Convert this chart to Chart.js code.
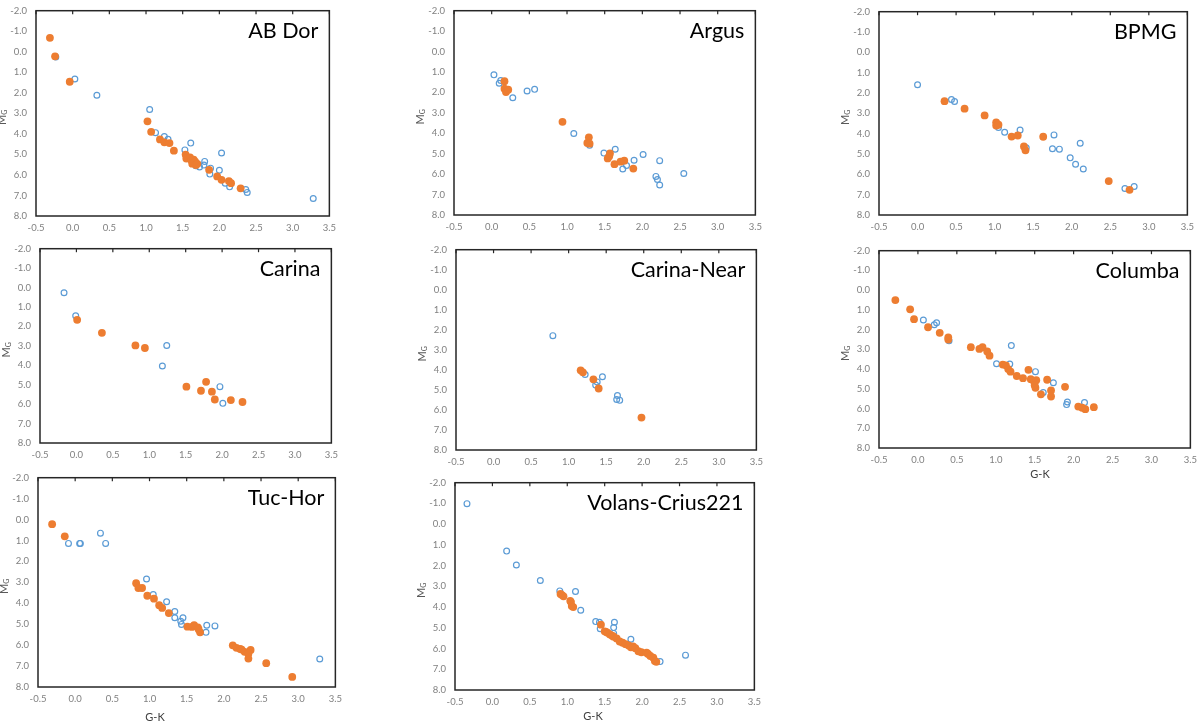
<!DOCTYPE html>
<html><head><meta charset="utf-8">
<script src="https://cdn.jsdelivr.net/npm/chart.js@4"></script>
<style>
body{margin:0;background:#fff;width:1200px;height:723px;overflow:hidden;position:relative}
canvas{position:absolute}
</style>
</head><body>
<script>
// ---- data: [G-K, M_G] pairs; "members" = filled orange, "others" = open blue ----
const abDorMembers = [[-0.31,-0.68],[-0.24,0.22],[-0.04,1.46],[1.02,3.39],[1.07,3.90],[1.19,4.27],[1.25,4.41],[1.32,4.45],[1.38,4.82],[1.54,5.01],[1.55,5.20],[1.60,5.14],[1.62,5.30],[1.65,5.25],[1.67,5.35],[1.63,5.45],[1.68,5.52],[1.70,5.46],[1.86,5.75],[1.97,6.07],[2.03,6.24],[2.13,6.30],[2.16,6.40],[2.29,6.65]];
const abDorOthers = [[-0.23,0.26],[0.03,1.33],[0.33,2.12],[1.05,2.81],[1.13,3.94],[1.25,4.13],[1.30,4.26],[1.61,4.45],[1.53,4.78],[1.80,5.34],[1.79,5.52],[1.73,5.61],[1.68,5.55],[1.88,5.67],[1.87,5.96],[2.00,5.77],[2.03,4.93],[2.08,6.40],[2.14,6.58],[2.36,6.71],[2.38,6.85],[3.28,7.15]];

const argusMembers = [[0.17,1.45],[0.17,1.82],[0.19,1.98],[0.22,1.87],[0.94,3.44],[1.29,4.20],[1.27,4.47],[1.30,4.51],[1.57,4.99],[1.54,5.23],[1.56,5.12],[1.63,5.51],[1.71,5.39],[1.76,5.34],[1.88,5.73]];
const argusOthers = [[0.03,1.14],[0.12,1.42],[0.10,1.55],[0.28,2.26],[0.47,1.93],[0.57,1.85],[1.09,4.01],[1.30,4.59],[1.49,4.97],[1.64,4.78],[1.89,5.32],[2.01,5.04],[1.79,5.58],[1.74,5.75],[2.23,5.34],[2.18,6.11],[2.20,6.26],[2.23,6.53],[2.55,5.97]];

const bpmgMembers = [[0.35,2.40],[0.61,2.77],[0.87,3.10],[1.02,3.44],[1.02,3.60],[1.05,3.56],[1.22,4.14],[1.30,4.09],[1.38,4.63],[1.40,4.82],[1.63,4.15],[2.48,6.33],[2.75,6.76]];
const bpmgOthers = [[0.00,1.59],[0.44,2.32],[0.48,2.42],[1.05,3.69],[1.13,3.93],[1.33,3.82],[1.41,4.69],[1.77,4.06],[1.75,4.74],[1.84,4.76],[2.11,4.47],[1.98,5.19],[2.05,5.50],[2.15,5.74],[2.69,6.70],[2.81,6.60]];

const carinaMembers = [[0.01,1.66],[0.35,2.33],[0.81,2.98],[0.94,3.11],[1.51,5.10],[1.71,5.31],[1.78,4.85],[1.86,5.36],[1.90,5.76],[2.12,5.79],[2.28,5.89]];
const carinaOthers = [[-0.17,0.27],[-0.01,1.45],[1.24,2.98],[1.18,4.04],[1.97,5.10],[2.01,5.96]];

const carinaNearMembers = [[1.16,4.02],[1.19,4.12],[1.33,4.47],[1.40,4.93],[1.97,6.38]];
const carinaNearOthers = [[0.79,2.29],[1.22,4.23],[1.45,4.34],[1.36,4.76],[1.38,4.60],[1.65,5.28],[1.64,5.48],[1.68,5.52]];

const columbaMembers = [[-0.29,0.50],[-0.10,0.97],[-0.05,1.47],[0.13,1.88],[0.28,2.16],[0.39,2.40],[0.39,2.50],[0.68,2.89],[0.79,2.98],[0.83,2.89],[0.89,3.11],[0.92,3.32],[1.09,3.77],[1.13,3.81],[1.16,4.00],[1.19,4.13],[1.27,4.35],[1.35,4.46],[1.42,4.04],[1.45,4.51],[1.49,4.62],[1.52,4.56],[1.51,4.95],[1.50,4.82],[1.58,5.28],[1.66,4.54],[1.71,5.08],[1.71,5.39],[1.89,4.90],[2.06,5.90],[2.15,6.03],[2.26,5.93],[2.11,5.96]];
const columbaOthers = [[0.07,1.51],[0.21,1.75],[0.24,1.65],[0.40,2.57],[1.01,3.73],[1.18,3.74],[1.20,2.81],[1.51,4.13],[1.74,4.69],[1.61,5.19],[1.92,5.67],[1.91,5.80],[2.14,5.70]];

const tucHorMembers = [[-0.31,0.22],[-0.14,0.80],[0.82,3.04],[0.85,3.27],[0.90,3.27],[0.97,3.64],[1.06,3.78],[1.13,4.09],[1.17,4.22],[1.26,4.47],[1.51,5.12],[1.57,5.13],[1.60,5.04],[1.65,5.15],[1.68,5.39],[1.66,5.24],[2.12,6.01],[2.17,6.13],[2.22,6.18],[2.24,6.21],[2.28,6.32],[2.36,6.23],[2.33,6.41],[2.33,6.64],[2.57,6.86],[2.92,7.52]];
const tucHorOthers = [[-0.09,1.14],[0.06,1.14],[0.07,1.14],[0.34,0.65],[0.41,1.14],[0.96,2.84],[1.05,3.58],[1.23,3.93],[1.34,4.39],[1.34,4.69],[1.45,4.69],[1.42,4.86],[1.43,5.01],[1.77,5.05],[1.76,5.39],[1.88,5.08],[3.29,6.66]];

const volansMembers = [[0.91,3.37],[0.93,3.42],[0.95,3.48],[1.04,3.70],[1.05,3.76],[1.06,3.95],[1.08,4.00],[1.45,4.85],[1.50,5.17],[1.52,5.20],[1.54,5.24],[1.57,5.32],[1.60,5.38],[1.62,5.43],[1.66,5.51],[1.70,5.66],[1.74,5.72],[1.78,5.79],[1.82,5.85],[1.85,5.94],[1.88,5.90],[1.91,5.98],[1.95,6.13],[1.99,6.18],[2.06,6.20],[2.08,6.26],[2.11,6.36],[2.15,6.44],[2.17,6.60],[2.19,6.64]];
const volansOthers = [[-0.34,-0.99],[0.19,1.30],[0.32,1.97],[0.64,2.72],[0.90,3.22],[1.11,3.25],[1.18,4.15],[1.38,4.70],[1.43,4.73],[1.44,5.04],[1.63,4.73],[1.62,4.99],[1.62,5.27],[1.66,5.51],[1.85,5.55],[2.24,6.63],[2.58,6.32]];

const panelNames = ['AB Dor','Argus','BPMG','Carina','Carina-Near','Columba','Tuc-Hor','Volans-Crius221'];
const xAxisTitle = 'G-K';
const xMin = -0.5, xMax = 3.5, xStep = 0.5;
const yMin = -2, yMax = 8, yStep = 1;

// ---- layout (plot-frame boxes in page pixels) ----
const panels = [
  {name:panelNames[0], members:abDorMembers, others:abDorOthers, L:36, R:332, T:4, B:216},
  {name:panelNames[1], members:argusMembers, others:argusOthers, L:454, R:758, T:4, B:215},
  {name:panelNames[2], members:bpmgMembers, others:bpmgOthers, L:879, R:1190, T:5, B:215},
  {name:panelNames[3], members:carinaMembers, others:carinaOthers, L:40, R:334, T:242, B:443},
  {name:panelNames[4], members:carinaNearMembers, others:carinaNearOthers, L:456, R:759, T:243, B:450},
  {name:panelNames[5], members:columbaMembers, others:columbaOthers, L:879, R:1193, T:244, B:448, gk:[1040,474]},
  {name:panelNames[6], members:tucHorMembers, others:tucHorOthers, L:38, R:338, T:471, B:687, gk:[155,717]},
  {name:panelNames[7], members:volansMembers, others:volansOthers, L:455, R:757, T:476, B:690, gk:[593,716]}
];

const PADL = 46, PADT = 8, PADR = 10, XAXH = 22;

const decor = {
  id:'decor',
  afterDatasetsDraw(chart, args, opts){
    const ctx = chart.ctx, a = chart.chartArea, p = opts.panel;
    ctx.save();
    ctx.strokeStyle = '#262626'; ctx.lineWidth = 1.5;
    ctx.strokeRect(a.left, a.top, a.right - a.left, a.bottom - a.top);
    const xs = chart.scales.x;
    ctx.lineWidth = 1.2;
    xs.ticks.forEach(t => {
      const px = xs.getPixelForValue(t.value);
      ctx.beginPath(); ctx.moveTo(px, a.top); ctx.lineTo(px, a.top + 3.5); ctx.stroke();
    });
    ctx.fillStyle = '#000';
    ctx.font = '21.5px Lato';
    ctx.textAlign = 'right'; ctx.textBaseline = 'alphabetic';
    ctx.fillText(p.name, a.right - 11, a.top + 27);
    ctx.fillStyle = '#595959';
    ctx.translate(a.left - 34, (a.top + a.bottom) / 2 + 4);
    ctx.rotate(-Math.PI / 2);
    ctx.font = '11px Lato';
    ctx.textAlign = 'left'; ctx.textBaseline = 'middle';
    const mw = ctx.measureText('M').width;
    ctx.font = '7px Lato';
    const gw = ctx.measureText('G').width;
    const start = -(mw + gw) / 2;
    ctx.font = '11px Lato';
    ctx.fillText('M', start, 0);
    ctx.font = '7px Lato';
    ctx.fillText('G', start + mw, 3);
    ctx.restore();
    if (p.gk) {
      ctx.save();
      ctx.fillStyle = '#404040';
      ctx.font = '11px Lato';
      ctx.textAlign = 'center'; ctx.textBaseline = 'middle';
      ctx.fillText(xAxisTitle, p.gk[0] - (p.L - PADL), p.gk[1] - (p.T - PADT));
      ctx.restore();
    }
  }
};

const tickFont = {family:'Lato', size:9.5};
const tickColor = '#808080';

panels.forEach(p => {
  const c = document.createElement('canvas');
  const extra = p.gk ? 38 : XAXH;
  const w = (p.R - p.L) + PADL + PADR;
  const h = (p.B - p.T) + PADT + extra;
  c.width = w; c.height = h;
  c.style.width = w + 'px'; c.style.height = h + 'px';
  c.style.left = (p.L - PADL) + 'px'; c.style.top = (p.T - PADT) + 'px';
  document.body.appendChild(c);
  new Chart(c, {
    type:'scatter',
    data:{datasets:[
      {data:p.members.map(([x,y]) => ({x,y})), backgroundColor:'#ED7D31', borderColor:'#ED7D31', borderWidth:0, pointRadius:3.9},
      {data:p.others.map(([x,y]) => ({x,y})), backgroundColor:'rgba(0,0,0,0)', borderColor:'#5B9BD5', borderWidth:1.2, pointRadius:2.9}
    ]},
    options:{
      responsive:false, animation:false, devicePixelRatio:1,
      layout:{padding:{top:PADT, right:PADR, left:0, bottom:extra - XAXH}},
      plugins:{legend:{display:false}, tooltip:{enabled:false}, decor:{panel:p}},
      scales:{
        x:{type:'linear', min:xMin, max:xMax,
           ticks:{stepSize:xStep, callback:v => Number(v).toFixed(1), padding:6, color:tickColor, font:tickFont, maxRotation:0, autoSkip:false},
           grid:{display:false, drawTicks:false}, border:{display:false},
           afterFit:s => { s.height = XAXH; }},
        y:{type:'linear', min:yMin, max:yMax, reverse:true,
           ticks:{stepSize:yStep, callback:v => Number(v).toFixed(1), padding:9, color:tickColor, font:tickFont},
           grid:{display:false, drawTicks:false}, border:{display:false},
           afterFit:s => { s.width = PADL; }}
      }
    },
    plugins:[decor]
  });
});
</script>
</body></html>
